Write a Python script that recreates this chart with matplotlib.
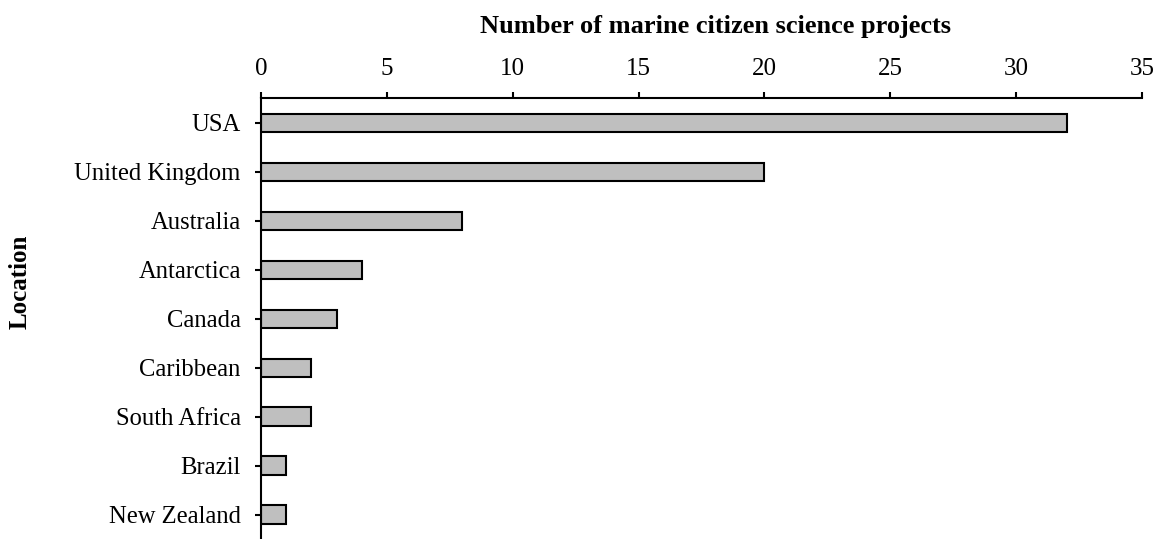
import matplotlib.pyplot as plt

# Data
locations = ["USA", "United Kingdom", "Australia", "Antarctica", "Canada",
             "Caribbean", "South Africa", "Brazil", "New Zealand"]
projects = [32, 20, 8, 4, 3, 2, 2, 1, 1]
x_ticks = [0, 5, 10, 15, 20, 25, 30, 35]

plt.rcParams['font.family'] = ['Liberation Serif', 'DejaVu Serif']

fig = plt.figure(figsize=(11.6, 5.39), dpi=100)
ax = fig.add_axes([0.225, -0.011, 0.7595, 0.829])

ax.barh(range(len(locations)), projects, height=0.37, color='#bfbfbf',
        edgecolor='black', linewidth=1.5)

ax.set_yticks(range(len(locations)))
ax.set_yticklabels(locations, fontsize=17.7)
ax.set_ylim(len(locations) - 0.38, -0.5)

ax.set_xlim(0, 35)
ax.set_xticks(x_ticks)
ax.xaxis.tick_top()
ax.tick_params(axis='x', labelsize=18, length=4, width=1.5, pad=9)
ax.tick_params(axis='y', length=4.5, width=1.5, pad=10)

# axis titles
fig.text(716 / 1160, 1 - 26 / 539, "Number of marine citizen science projects",
         fontsize=19, fontweight='bold', ha='center', va='center')
fig.text(20 / 1160, 1 - 282 / 539, "Location", fontsize=18, fontweight='bold',
         rotation=90, ha='center', va='center')

ax.spines['right'].set_visible(False)
ax.spines['bottom'].set_visible(False)
ax.spines['top'].set_linewidth(1.5)
ax.spines['left'].set_linewidth(1.5)

fig.savefig("out.png", dpi=100)
